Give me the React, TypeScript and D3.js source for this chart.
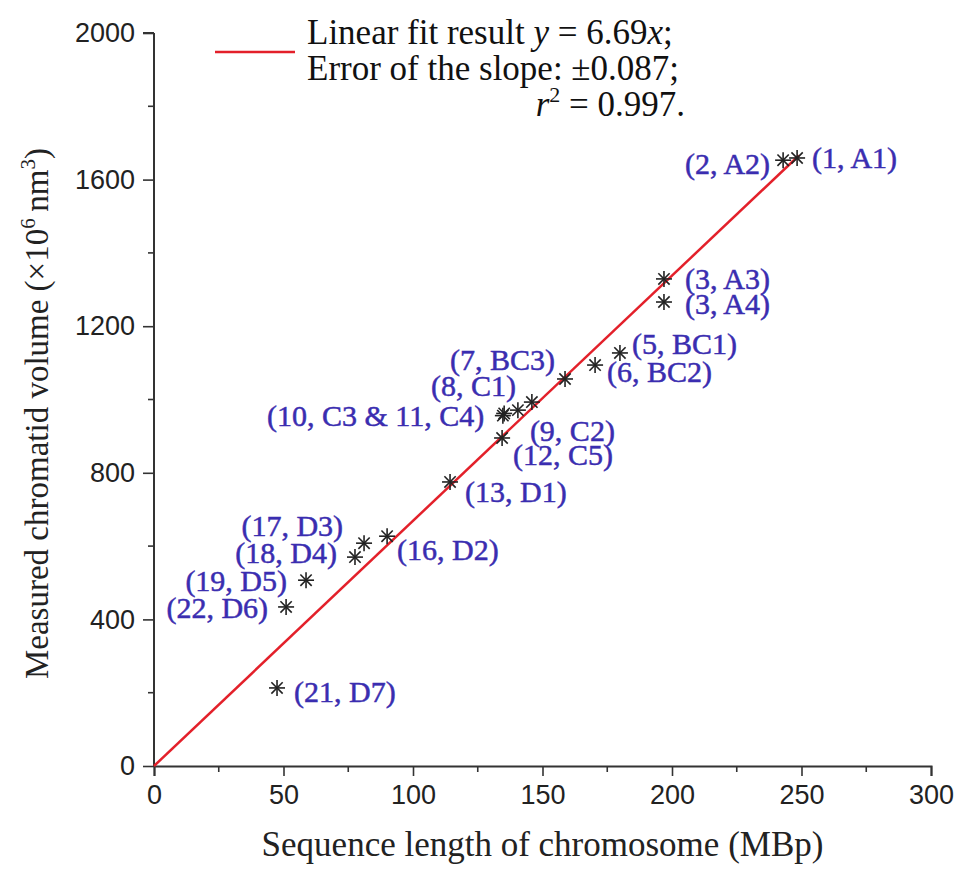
import React, { useRef, useEffect } from 'react';
import * as d3 from 'd3';

// sequence length (MBp) vs measured chromatid volume (x10^6 nm^3)
const seqLength = [248.3, 242.9, 196.9, 196.9, 179.9, 170.3, 158.7, 140.5, 145.9, 135.2, 134.7, 134.4, 114.3, 90.0, 81.1, 77.6, 58.7, 51.0, 47.5];
const volume = [1659, 1653, 1329, 1266, 1127, 1094, 1056, 971, 993, 962, 956, 895, 775, 627, 608, 570, 507, 434, 213];
const pointLabels = ['(1, A1)', '(2, A2)', '(3, A3)', '(3, A4)', '(5, BC1)', '(6, BC2)', '(7, BC3)', '(8, C1)', '(9, C2)', '(10, C3 & 11, C4)', '', '(12, C5)', '(13, D1)', '(16, D2)', '(17, D3)', '(18, D4)', '(19, D5)', '(22, D6)', '(21, D7)'];
// label placement: [anchor, dx, dy]
const labelPlace: [string, number, number][] = [
  ['start', 15, 0], ['end', -13, 3], ['start', 21, 0], ['start', 21, 1], ['start', 12, -9], ['start', 12, 6],
  ['end', -10, -19], ['end', -2, -25], ['start', -2, 28], ['end', -20, 2], ['start', 0, 0], ['start', 11, 17],
  ['start', 15, 10], ['start', 10, 13], ['end', -21, -18], ['end', -18, -5], ['end', -19, 0], ['end', -18, 1], ['start', 17, 4],
];

const fitSlope = 6.69;
const fitRange = [0, 249];
const xTicks = [0, 50, 100, 150, 200, 250, 300];
const yTicks = [0, 400, 800, 1200, 1600, 2000];

const W = 955, H = 869;
const serif = "'Liberation Serif', 'Times New Roman', serif";
const sans = "'Liberation Sans', Arial, sans-serif";
const blue = '#3a2db0';

export default function App() {
  const ref = useRef<SVGSVGElement>(null);

  useEffect(() => {
    const svg = d3.select(ref.current);
    svg.selectAll('*').remove();

    const x = d3.scaleLinear().domain([0, 300]).range([154, 931]);
    const y = d3.scaleLinear().domain([0, 2000]).range([766, 33]);

    const g = svg.append('g');

    // axes
    const xAxis = d3.axisBottom(x).tickValues(xTicks).tickSize(10).tickPadding(9).tickFormat(d3.format('d'));
    const yAxis = d3.axisLeft(y).tickValues(yTicks).tickSize(11).tickPadding(8).tickFormat(d3.format('d'));

    const gx = g.append('g').attr('transform', `translate(0,${y(0)})`).call(xAxis);
    const gy = g.append('g').attr('transform', `translate(${x(0)},0)`).call(yAxis);

    // minor ticks
    gx.append('g').selectAll('line').data(d3.range(25, 300, 50)).enter().append('line')
      .attr('x1', d => x(d)).attr('x2', d => x(d)).attr('y1', 0).attr('y2', 6);
    gy.append('g').selectAll('line').data(d3.range(200, 2000, 400)).enter().append('line')
      .attr('y1', d => y(d)).attr('y2', d => y(d)).attr('x1', 0).attr('x2', -6);

    [gx, gy].forEach(a => {
      a.select('.domain').attr('stroke', '#333').attr('stroke-width', 2);
      a.selectAll('line').attr('stroke', '#333').attr('stroke-width', 1.6);
      a.selectAll('text').attr('font-family', sans).attr('font-size', 27).attr('fill', '#222');
    });
    gy.select('.domain').attr('d', `M0,${y(2000)}H-11M0,${y(2000)}V${y(0)}`);

    // axis titles
    g.append('text')
      .attr('x', (x(0) + x(300)) / 2).attr('y', 856)
      .attr('text-anchor', 'middle').attr('font-family', serif).attr('font-size', 35).attr('fill', '#222')
      .text('Sequence length of chromosome (MBp)');

    const yt = g.append('text')
      .attr('transform', `translate(48,${(y(0) + y(2000)) / 2 + 14}) rotate(-90)`)
      .attr('text-anchor', 'middle').attr('font-family', serif).attr('font-size', 33).attr('fill', '#222');
    yt.append('tspan').text('Measured chromatid volume (\u00d710');
    yt.append('tspan').attr('dy', -13).attr('font-size', 21).text('6');
    yt.append('tspan').attr('dy', 13).text('\u2009nm');
    yt.append('tspan').attr('dy', -13).attr('font-size', 21).text('3');
    yt.append('tspan').attr('dy', 13).text(')');

    // fit line
    const line = d3.line<number>().x(d => x(d)).y(d => y(d * fitSlope));
    g.append('path').datum(fitRange).attr('d', line)
      .attr('fill', 'none').attr('stroke', '#e3202a').attr('stroke-width', 2.5);

    // star markers
    const idx = d3.range(seqLength.length);
    const star = g.append('g').selectAll('g').data(idx).enter().append('g')
      .attr('transform', i => `translate(${x(seqLength[i])},${y(volume[i])})`);
    const r = 8;
    [0, 45, 90, 135].forEach(a => {
      star.append('line')
        .attr('x1', -r * Math.cos(a * Math.PI / 180)).attr('y1', -r * Math.sin(a * Math.PI / 180))
        .attr('x2', r * Math.cos(a * Math.PI / 180)).attr('y2', r * Math.sin(a * Math.PI / 180))
        .attr('stroke', '#222').attr('stroke-width', 1.6);
    });

    // point labels
    g.append('g').selectAll('text').data(idx.filter(i => pointLabels[i] !== '')).enter().append('text')
      .attr('x', i => x(seqLength[i]) + labelPlace[i][1])
      .attr('y', i => y(volume[i]) + labelPlace[i][2])
      .attr('dy', '0.35em')
      .attr('text-anchor', i => labelPlace[i][0])
      .attr('font-family', serif).attr('font-size', 30).attr('fill', blue)
      .attr('stroke', blue).attr('stroke-width', 0.5)
      .text(i => pointLabels[i]);

    // legend
    const lg = g.append('g');
    lg.append('line').attr('x1', 215).attr('x2', 295).attr('y1', 52).attr('y2', 52)
      .attr('stroke', '#e3202a').attr('stroke-width', 2.5);
    const t1 = lg.append('text').attr('x', 307).attr('y', 44)
      .attr('font-family', serif).attr('font-size', 35).attr('fill', '#111');
    t1.append('tspan').text('Linear fit result ');
    t1.append('tspan').attr('font-style', 'italic').text('y');
    t1.append('tspan').text(` = ${fitSlope}`);
    t1.append('tspan').attr('font-style', 'italic').text('x');
    t1.append('tspan').text(';');
    lg.append('text').attr('x', 307).attr('y', 80)
      .attr('font-family', serif).attr('font-size', 35).attr('fill', '#111')
      .text('Error of the slope: \u00b10.087;');
    const t3 = lg.append('text').attr('x', 685).attr('y', 116).attr('text-anchor', 'end')
      .attr('font-family', serif).attr('font-size', 35).attr('fill', '#111');
    t3.append('tspan').attr('font-style', 'italic').text('r');
    t3.append('tspan').attr('dy', -14).attr('font-size', 22).text('2');
    t3.append('tspan').attr('dy', 14).text(' = 0.997.');
  }, []);

  return (
    <svg ref={ref} width={W} height={H}
      style={{ position: 'absolute', left: 0, top: 0, background: '#fff' }} />
  );
}
